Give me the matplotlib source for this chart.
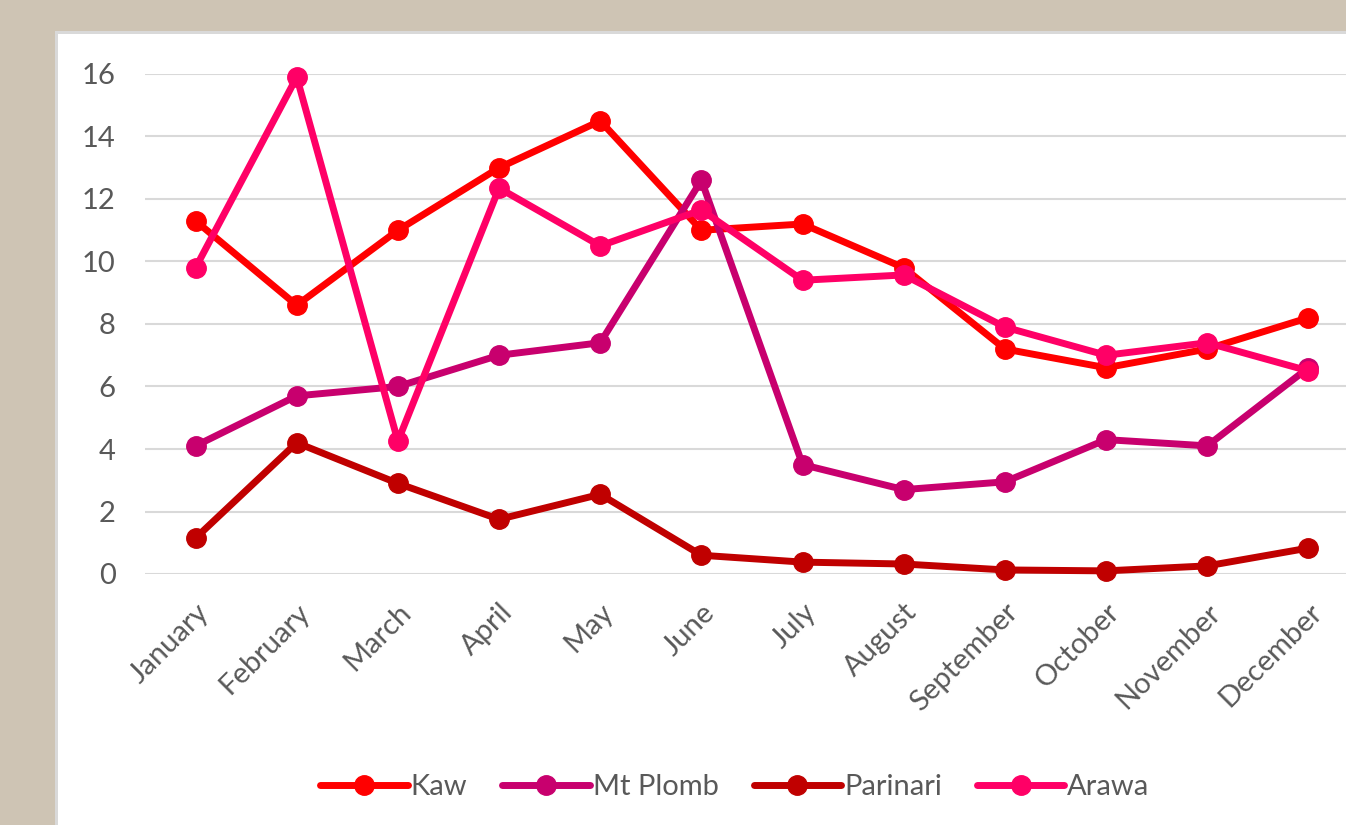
import matplotlib
matplotlib.use("Agg")
import matplotlib.pyplot as plt
from matplotlib.patches import Rectangle

months = ["January", "February", "March", "April", "May", "June", "July",
          "August", "September", "October", "November", "December"]
kaw = [11.3, 8.6, 11.0, 13.0, 14.5, 11.0, 11.2, 9.8, 7.2, 6.6, 7.2, 8.2]
mt_plomb = [4.1, 5.7, 6.0, 7.0, 7.4, 12.6, 3.5, 2.7, 2.95, 4.3, 4.1, 6.6]
parinari = [1.15, 4.2, 2.9, 1.75, 2.55, 0.6, 0.38, 0.32, 0.13, 0.1, 0.26, 0.83]
arawa = [9.8, 15.9, 4.25, 12.35, 10.5, 11.65, 9.4, 9.57, 7.9, 7.0, 7.4, 6.5]
yticks = [0, 2, 4, 6, 8, 10, 12, 14, 16]

series = [("Kaw", kaw, "#FF0000"),
          ("Mt Plomb", mt_plomb, "#C8006E"),
          ("Parinari", parinari, "#C00000"),
          ("Arawa", arawa, "#FF0066")]

plt.rcParams['font.family'] = ['Lato', 'DejaVu Sans']
W, H = 1346, 825
fig = plt.figure(figsize=(W / 100, H / 100), dpi=100)
fig.patch.set_facecolor("#CEC4B4")

# background layer: white chart area with light border
bg = fig.add_axes([0, 0, 1, 1], zorder=-10)
bg.set_xlim(0, W)
bg.set_ylim(0, H)
bg.axis("off")
bg.add_patch(Rectangle((55, 0), W, H - 31, facecolor="#D9D9D9", edgecolor="none"))
bg.add_patch(Rectangle((58, 0), W, H - 34, facecolor="white", edgecolor="none"))

ax = fig.add_axes([145 / W, (H - 574) / H, 1214 / W, 500 / H], zorder=1)
ax.set_facecolor("none")
x = list(range(len(months)))
for name, vals, col in series:
    ax.plot(x, vals, color=col, lw=5, marker="o", markersize=14,
            label=name, solid_capstyle="round", solid_joinstyle="round", clip_on=False)

ax.set_xlim(-0.5, 11.5)
ax.set_ylim(0, 16)
ax.set_yticks(yticks)
ax.set_yticklabels([str(v) for v in yticks])
ax.set_xticks(x)
ax.set_xticklabels(months, rotation=45, ha="right", rotation_mode="anchor")
ax.grid(axis="y", color="#D9D9D9", lw=1.5)
ax.set_axisbelow(True)
for s in ax.spines.values():
    s.set_visible(False)
ax.tick_params(axis="both", length=0, colors="#595959", labelsize=21)
ax.tick_params(axis="y", pad=21)
ax.tick_params(axis="x", pad=18)

leg = fig.legend(loc="center", bbox_to_anchor=(735 / W, (H - 787) / H), ncol=4,
                 frameon=False, fontsize=21, handlelength=3.0, columnspacing=1.2,
                 handletextpad=0.1, labelcolor="#595959")

fig.savefig("out.png", dpi=100, facecolor=fig.get_facecolor())
